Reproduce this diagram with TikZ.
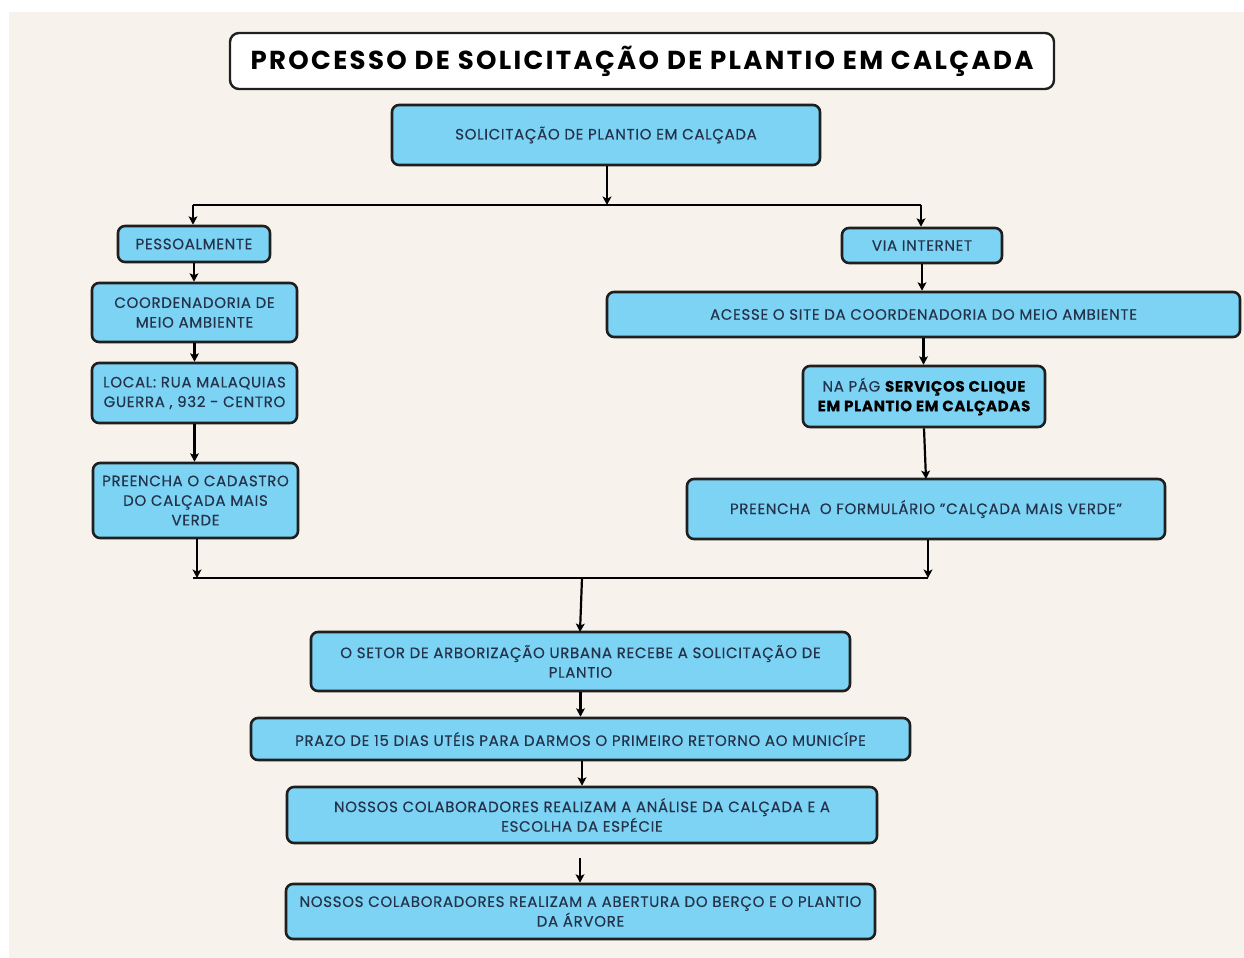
\documentclass[tikz,border=0pt]{standalone}
\usepackage{fontspec}
\setmainfont{Poppins}[LetterSpace=4.5,FakeBold=0.4]
\newfontfamily\titlefont{Poppins}[LetterSpace=9]
\usetikzlibrary{arrows.meta,calc}
\definecolor{bg}{HTML}{F7F2EB}
\definecolor{boxfill}{HTML}{7DD3F4}
\definecolor{boxline}{HTML}{1F1F1F}
\definecolor{txt}{HTML}{24334A}
\tikzset{
  px/.style={x=0.5pt,y=-0.5pt},
  box/.style={draw=boxline,fill=boxfill,line width=1.3pt,rounded corners=3.5pt,
    align=center,text=txt,inner sep=0pt,
    font=\fontsize{7.5}{9.8}\selectfont},
  titlebox/.style={draw=boxline,fill=white,line width=1.2pt,rounded corners=4.5pt,
    align=center,text=black,inner sep=0pt,
    font=\titlefont\fontsize{13}{15}\selectfont\bfseries},
  conn/.style={line width=1.1pt,draw=black},
  arr/.style={conn,-{Stealth[length=4.2pt,width=4.4pt,inset=1pt]}},
}
\newcommand{\bx}[5]{\node[box,minimum width=#3*0.5pt,minimum height=#4*0.5pt] (#1) at (#2) {#5};}
\begin{document}
\begin{tikzpicture}[px]
\useasboundingbox (0,0) rectangle (1244,958);
\fill[white] (0,0) rectangle (1244,958);
\fill[bg] (9,12) rectangle (1244,958);

\node[titlebox,minimum width=412pt,minimum height=28pt] (title) at (642,61) {PROCESSO DE SOLICITAÇÃO DE PLANTIO EM CALÇADA};

\bx{b1}{606,135}{428}{60}{SOLICITAÇÃO DE PLANTIO EM CALÇADA}
\bx{pes}{194,244}{152}{36}{PESSOALMENTE}
\bx{coord}{194.5,312.5}{205}{59}{COORDENADORIA DE\\MEIO AMBIENTE}
\bx{local}{194.5,393}{205}{60}{LOCAL: RUA MALAQUIAS\\GUERRA , 932 - CENTRO}
\bx{cad}{195.5,500.5}{205}{75}{PREENCHA O CADASTRO\\DO CALÇADA MAIS\\VERDE}
\bx{via}{922,245.5}{160}{35}{VIA INTERNET}
\bx{site}{923.5,314.5}{633}{45}{ACESSE O SITE DA COORDENADORIA DO MEIO AMBIENTE}
\bx{nap}{924,396.5}{242}{61}{NA PÁG \textcolor{black}{\bfseries SERVIÇOS CLIQUE}\\\textcolor{black}{\bfseries EM PLANTIO EM CALÇADAS}}
\bx{form}{926,509}{478}{60}{PREENCHA \ O FORMULÁRIO "CALÇADA MAIS VERDE"}
\bx{setor}{580.5,661.5}{539}{59}{O SETOR DE ARBORIZAÇÃO URBANA RECEBE A SOLICITAÇÃO DE\\PLANTIO}
\bx{prazo}{580.5,739}{659}{42}{PRAZO DE 15 DIAS UTÉIS PARA DARMOS O PRIMEIRO RETORNO AO MUNICÍPE}
\bx{anal}{582,815}{590}{56}{NOSSOS COLABORADORES REALIZAM A ANÁLISE DA CALÇADA E A\\ESCOLHA DA ESPÉCIE}
\bx{aber}{580.5,911.5}{589}{55}{NOSSOS COLABORADORES REALIZAM A ABERTURA DO BERÇO E O PLANTIO\\DA ÁRVORE}

% top split
\coordinate (jc) at (607,205);
\coordinate (jl) at (193,205);
\coordinate (jr) at (921,205);
\draw[arr] (b1.south -| jc) -- (jc);
\draw[conn] (jl) -- (jr);
\draw[arr] (jl) -- (jl |- pes.north);
\draw[arr] (jr) -- (jr |- via.north);

% left column
\draw[arr] (pes.south) -- (pes.south |- coord.north);
\draw[arr] (coord.south) -- (coord.south |- local.north);
\draw[arr] (local.south) -- (local.south |- cad.north);

% right column
\draw[arr] (via.south) -- (via.south |- site.north);
\draw[arr] (site.south) -- (site.south |- nap.north);
\coordinate (r2) at (926,479);
\draw[arr] (nap.south) -- (r2);

% merge
\coordinate (ml) at (197,578);
\coordinate (mr) at (928,578);
\coordinate (mc) at (582,578);
\coordinate (ml0) at (193,578);
\draw[arr] (cad.south -| ml) -- (ml);
\draw[arr] (form.south -| mr) -- (mr);
\draw[conn] (ml0) -- (mr);
\coordinate (sc) at (580,632);
\draw[arr] (mc) -- (sc);

% bottom chain
\draw[arr] (setor.south) -- (setor.south |- prazo.north);
\draw[arr] (prazo.south -| 582,0) -- (anal.north -| 582,0);
\coordinate (a0) at (580,858);
\draw[arr] (a0) -- (a0 |- aber.north);
\end{tikzpicture}
\end{document}
